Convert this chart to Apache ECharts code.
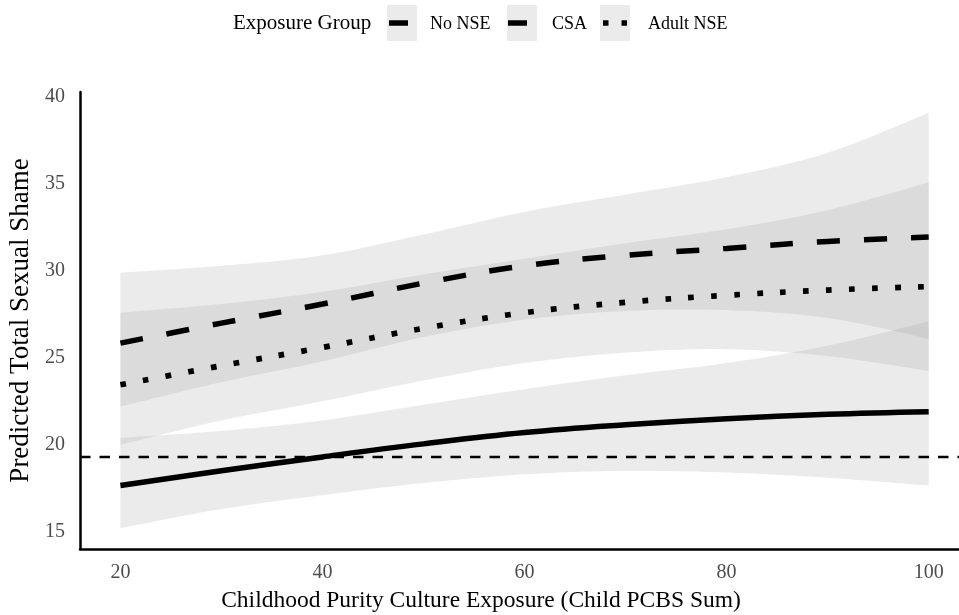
<!DOCTYPE html>
<html><head><meta charset="utf-8">
<script src="https://cdn.jsdelivr.net/npm/echarts@6/dist/echarts.min.js"></script>
<style>html,body{margin:0;padding:0;background:#fff}#c{width:959px;height:615px}</style>
</head><body><div id="c"></div>
<script>
// ---- data ----
const xValues   = [20, 30, 40, 50, 60, 70, 80, 90, 100];
const noNSE     = [17.65, 18.5, 19.3, 20.05, 20.7, 21.15, 21.5, 21.75, 21.9];
const csa       = [25.85, 27.0, 28.1, 29.3, 30.3, 30.9, 31.3, 31.7, 31.95];
const adultNSE  = [23.45, 24.55, 25.6, 26.7, 27.6, 28.2, 28.6, 28.9, 29.1];
const noNSELower    = [15.2, 16.3, 17.1, 17.8, 18.3, 18.5, 18.4, 18.1, 17.65];
const noNSEUpper    = [20.4, 20.8, 21.4, 22.3, 23.2, 24.0, 24.7, 25.7, 27.1];
const csaLower      = [22.2, 23.6, 24.8, 26.2, 27.2, 27.7, 27.75, 27.3, 26.1];
const csaUpper      = [29.9, 30.3, 30.9, 32.1, 33.4, 34.4, 35.4, 36.8, 39.1];
const adultNSELower = [20.0, 21.4, 22.5, 23.7, 24.7, 25.3, 25.5, 25.1, 24.25];
const adultNSEUpper = [27.6, 28.1, 28.8, 29.8, 30.7, 31.6, 32.4, 33.5, 35.1];
const referenceLine = 19.3;
const xTicks = [20, 40, 60, 80, 100];
const yTicks = [15, 20, 25, 30, 35, 40];
const groupNames = ['No NSE', 'CSA', 'Adult NSE'];
const legendTitle = 'Exposure Group';
const xTitle = 'Childhood Purity Culture Exposure (Child PCBS Sum)';
const yTitle = 'Predicted Total Sexual Shame';

// ---- chart ----
const FONT = '"Liberation Serif","DejaVu Serif","Times New Roman",serif';
const chart = echarts.init(document.getElementById('c'), null, {renderer: 'canvas'});
const pairs = ys => xValues.map((x, i) => [x, ys[i]]);
const bandFill = 'rgba(153,153,153,0.2)';

// Catmull-Rom sampling in pixel space (for smooth ribbon edges)
function spline(pts, n) {
  const out = [];
  for (let i = 0; i < pts.length - 1; i++) {
    const p0 = pts[Math.max(0, i - 1)], p1 = pts[i], p2 = pts[i + 1], p3 = pts[Math.min(pts.length - 1, i + 2)];
    for (let k = 0; k < n; k++) {
      const t = k / n, t2 = t * t, t3 = t2 * t;
      const f = j => 0.5 * (2 * p1[j] + (-p0[j] + p2[j]) * t + (2 * p0[j] - 5 * p1[j] + 4 * p2[j] - p3[j]) * t2 + (-p0[j] + 3 * p1[j] - 3 * p2[j] + p3[j]) * t3);
      out.push([f(0), f(1)]);
    }
  }
  out.push(pts[pts.length - 1]);
  return out;
}

function band(lo, up) {
  return {
    type: 'custom', silent: true, z: 1, animation: false, clip: true,
    data: [[xValues[0], lo[0]]],
    renderItem: function (params, api) {
      const u = xValues.map((x, i) => api.coord([x, up[i]]));
      const l = xValues.map((x, i) => api.coord([x, lo[i]]));
      const pts = spline(u, 20).concat(spline(l, 20).reverse());
      return {type: 'polygon', shape: {points: pts}, style: {fill: bandFill, stroke: null}};
    }
  };
}

const SM = 0.4;
const series = [
  band(noNSELower, noNSEUpper),
  band(csaLower, csaUpper),
  band(adultNSELower, adultNSEUpper),
  {type: 'line', name: 'ref', data: [], z: 2, silent: true, animation: false,
   markLine: {silent: true, symbol: ['none', 'none'], label: {show: false}, animation: false,
     lineStyle: {color: '#000', type: [10.5, 9], width: 2.4},
     data: [{yAxis: referenceLine}]}},
  {type: 'line', name: groupNames[0], data: pairs(noNSE), smooth: SM, symbol: 'none',
   lineStyle: {color: '#000', width: 5.5, cap: 'butt'}, z: 3, animation: false},
  {type: 'line', name: groupNames[1], data: pairs(csa), smooth: SM, symbol: 'none',
   lineStyle: {color: '#000', width: 5.5, type: [23, 24], cap: 'butt'}, z: 3, animation: false},
  {type: 'line', name: groupNames[2], data: pairs(adultNSE), smooth: SM, symbol: 'none',
   lineStyle: {color: '#000', width: 5.7, type: [5.7, 17.3], cap: 'butt'}, z: 3, animation: false}
];

// legend drawn as graphic elements (keys with grey backgrounds)
const keyY = 5, keyH = 36, keyW = 30, midY = 23;
const legendGraphic = [
  {type: 'text', left: 233, top: midY - 10, style: {text: legendTitle, font: '21px ' + FONT, fill: '#000'}},
  {type: 'rect', shape: {x: 387, y: keyY, width: keyW, height: keyH}, style: {fill: '#ebebeb'}},
  {type: 'line', shape: {x1: 389, y1: midY, x2: 408, y2: midY}, style: {stroke: '#000', lineWidth: 5.5}},
  {type: 'text', left: 430, top: midY - 8, style: {text: groupNames[0], font: '18px ' + FONT, fill: '#000'}},
  {type: 'rect', shape: {x: 507, y: keyY, width: keyW, height: keyH}, style: {fill: '#ebebeb'}},
  {type: 'line', shape: {x1: 508, y1: midY, x2: 527, y2: midY}, style: {stroke: '#000', lineWidth: 5.5}},
  {type: 'text', left: 552, top: midY - 8, style: {text: groupNames[1], font: '18px ' + FONT, fill: '#000'}},
  {type: 'rect', shape: {x: 600, y: keyY, width: keyW, height: keyH}, style: {fill: '#ebebeb'}},
  {type: 'line', shape: {x1: 603, y1: midY, x2: 627, y2: midY}, style: {stroke: '#000', lineWidth: 5.5, lineDash: [5.5, 13]}},
  {type: 'text', left: 648, top: midY - 8, style: {text: groupNames[2], font: '18px ' + FONT, fill: '#000'}}
];

chart.setOption({
  backgroundColor: '#fff',
  animation: false,
  grid: {left: 80, right: 0, top: 92, bottom: 66, containLabel: false, outerBoundsMode: 'none'},
  xAxis: {
    type: 'value', min: 16, max: 103,
    axisLine: {onZero: false, lineStyle: {color: '#000', width: 2.5}},
    axisTick: {show: false}, splitLine: {show: false},
    axisLabel: {customValues: xTicks, color: '#4d4d4d', fontSize: 20, fontFamily: FONT, margin: 14},
    name: xTitle, nameLocation: 'middle', nameGap: 40,
    nameTextStyle: {fontSize: 23.5, color: '#000', fontFamily: FONT, padding: [0, 77, 0, 0]}
  },
  yAxis: {
    type: 'value', min: 14, max: 40.3,
    axisLine: {show: true, onZero: false, lineStyle: {color: '#000', width: 2.5}},
    axisTick: {show: false}, splitLine: {show: false},
    axisLabel: {customValues: yTicks, color: '#4d4d4d', fontSize: 20, fontFamily: FONT, margin: 15},
    name: yTitle, nameLocation: 'middle', nameGap: 42,
    nameTextStyle: {fontSize: 27, color: '#000', fontFamily: FONT}
  },
  graphic: legendGraphic,
  series: series
});
</script>
</body></html>
